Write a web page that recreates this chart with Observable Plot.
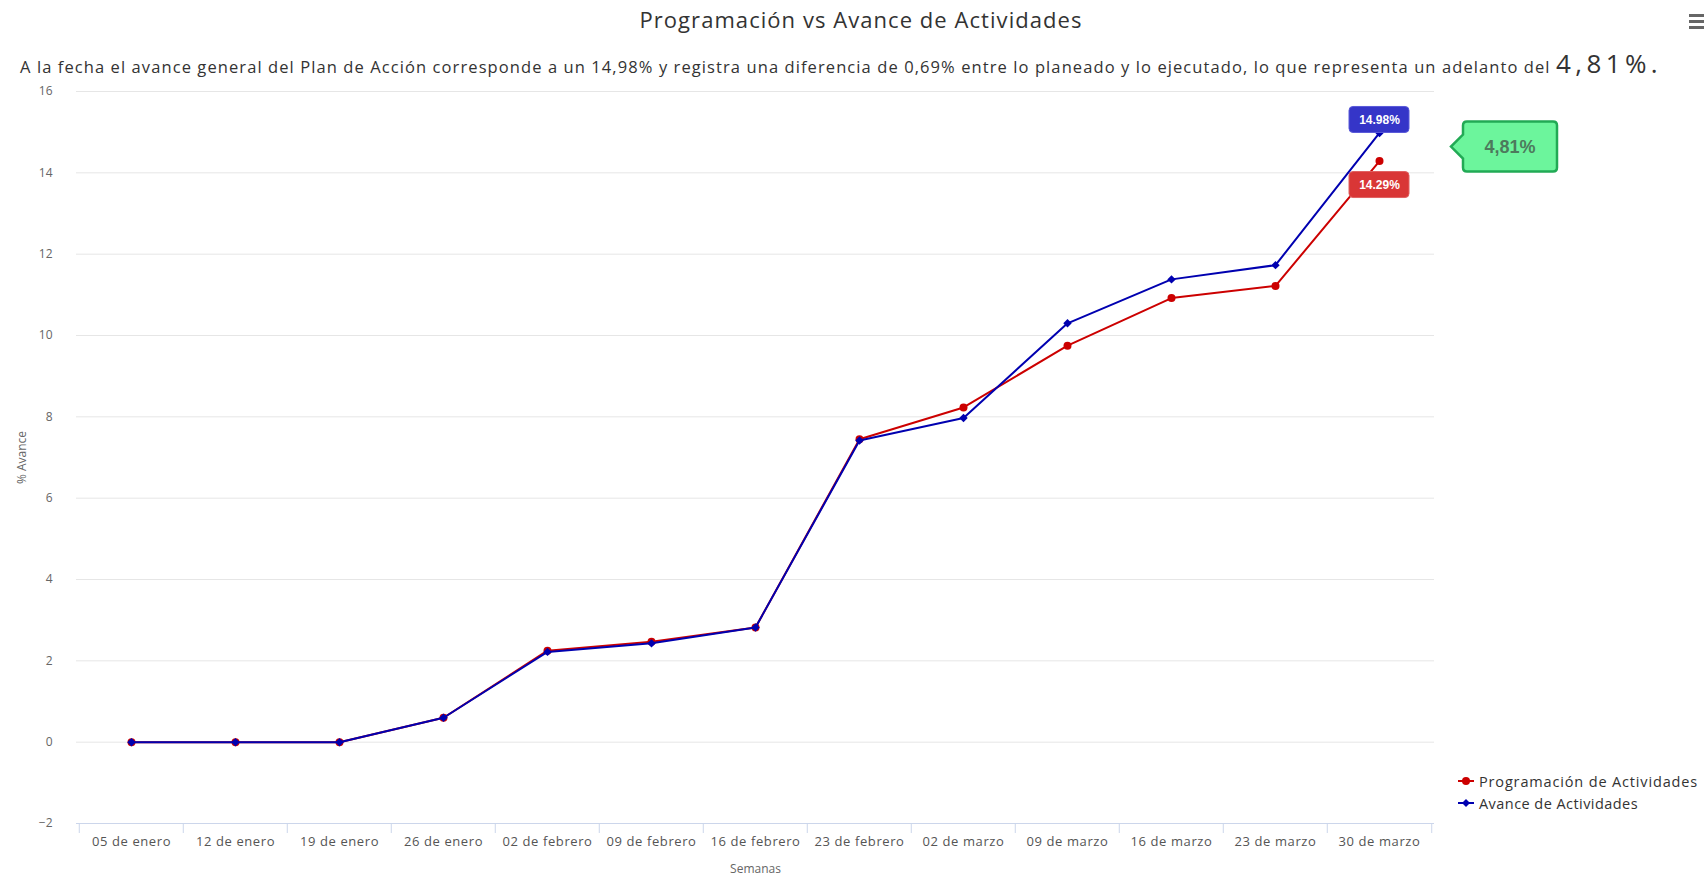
<!DOCTYPE html>
<html>
<head>
<meta charset="utf-8">
<script src="https://cdn.jsdelivr.net/npm/d3@7"></script>
<script src="https://cdn.jsdelivr.net/npm/@observablehq/plot@0.6"></script>
<style>
  body { margin: 0; background: #fff; font-family: "Open Sans", sans-serif; }
  #wrap { position: relative; width: 1704px; height: 877px; overflow: hidden; background: #fff; }
  #title { position: absolute; left: 861px; top: 4px; transform: translateX(-50%); font-size: 22px; color: #333; white-space: nowrap; }
  #subtitle { position: absolute; left: 20px; top: 48px; font-size: 16.5px; color: #333; white-space: nowrap; line-height: 30px; }
  #subtitle .big { font-size: 26px; }
  #chart { position: absolute; left: 0; top: 80px; }
  #chart svg [aria-label="x-axis tick label"] text { letter-spacing: 0.6px; }
  #menu { position: absolute; left: 1689px; top: 14px; width: 15px; }
  #menu div { height: 3px; background: #666; margin-bottom: 3px; }
  #legend { position: absolute; left: 1458px; top: 770px; font-size: 14.5px; color: #333; }
  #legend .item { height: 22px; display: flex; align-items: center; white-space: nowrap; }
  #legend svg { margin-right: 5px; }
  #callout { position: absolute; left: 0; top: 0; pointer-events: none; }
</style>
</head>
<body>
<div id="wrap">
  <div id="title"></div>
  <div id="subtitle"></div>
  <div id="menu"><div></div><div></div><div></div></div>
  <div id="chart"></div>
  <div id="legend"></div>
</div>
<script>
// ---- Data ----
const semanas = ["05 de enero", "12 de enero", "19 de enero", "26 de enero", "02 de febrero", "09 de febrero", "16 de febrero", "23 de febrero", "02 de marzo", "09 de marzo", "16 de marzo", "23 de marzo", "30 de marzo"];
const programacion = [0, 0, 0, 0.6, 2.25, 2.47, 2.82, 7.45, 8.23, 9.75, 10.92, 11.22, 14.29];
const avance = [0, 0, 0, 0.6, 2.22, 2.43, 2.82, 7.42, 7.97, 10.30, 11.38, 11.73, 14.98];
const yTicks = [-2, 0, 2, 4, 6, 8, 10, 12, 14, 16];
const serieProgramacion = "Programación de Actividades";
const serieAvance = "Avance de Actividades";
const titulo = "Programación vs Avance de Actividades";
const subtituloTexto = "A la fecha el avance general del Plan de Acción corresponde a un 14,98% y registra una diferencia de 0,69% entre lo planeado y lo ejecutado, lo que representa un adelanto del ";
const adelanto = "4,81%";
const ejeY = "% Avance";
const ejeX = "Semanas";

const rojo = "#cc0000", azul = "#0000b0";

// stretch a text element's letter spacing to a target width (layout only)
function fitWidth(el, target) {
  const w = el.getBoundingClientRect().width;
  const n = el.textContent.length;
  el.style.letterSpacing = ((target - w) / n) + "px";
}

const titleEl = document.getElementById("title");
titleEl.textContent = titulo;
fitWidth(titleEl, 443);

const sub = document.getElementById("subtitle");
const normal = document.createElement("span"); normal.textContent = subtituloTexto;
const big = document.createElement("span"); big.className = "big"; big.textContent = adelanto + ".";
sub.appendChild(normal); sub.appendChild(big);
fitWidth(normal, 1536);
fitWidth(big, 106);

const prog = semanas.map((s, i) => ({semana: s, valor: programacion[i]}));
const av = semanas.map((s, i) => ({semana: s, valor: avance[i]}));
const lastProg = [prog[prog.length - 1]];
const lastAv = [av[av.length - 1]];
const fmt = d => d3.format(".2f")(d.valor) + "%";

const W = 1704, H = 797, mL = 76, mR = 270, mT = 11, mB = 54;
const step = (W - mL - mR) / semanas.length;
const font = "'Liberation Sans', Arial, sans-serif";

const chart = Plot.plot({
  width: W, height: H,
  marginLeft: mL, marginRight: mR, marginTop: mT, marginBottom: mB,
  style: {fontFamily: "'Open Sans', sans-serif", color: "#666", background: "transparent"},
  x: {type: "band", domain: semanas, padding: 0},
  y: {domain: [-2, 16]},
  marks: [
    Plot.gridY(yTicks.filter(t => t > -2), {stroke: "#e6e6e6", strokeOpacity: 1}),
    Plot.ruleY([-2], {stroke: "#ccd6eb"}),
    Plot.ruleX(semanas, {x: d => d, y1: () => -2, y2: () => -2, dx: -step / 2, insetBottom: -10, stroke: "#ccd6eb"}),
    Plot.ruleX([semanas[semanas.length - 1]], {x: d => d, y1: () => -2, y2: () => -2, dx: step / 2, insetBottom: -10, stroke: "#ccd6eb"}),
    Plot.axisY(yTicks, {tickSize: 0, tickPadding: 24, fontSize: 12, label: null, color: "#666"}),
    Plot.axisX({tickSize: 0, tickPadding: 13, fontSize: 13, label: null, color: "#555"}),
    Plot.text([ejeY], {text: d => d, frameAnchor: "left", dx: -54, rotate: -90, textAnchor: "middle", lineAnchor: "middle", fontSize: 12, fill: "#666"}),
    Plot.text([ejeX], {text: d => d, frameAnchor: "bottom", dy: 46, textAnchor: "middle", lineAnchor: "middle", fontSize: 12, fill: "#666"}),
    Plot.line(prog, {x: "semana", y: "valor", stroke: rojo, strokeWidth: 2}),
    Plot.dot(prog, {x: "semana", y: "valor", r: 4, fill: rojo}),
    Plot.line(av, {x: "semana", y: "valor", stroke: azul, strokeWidth: 2}),
    Plot.dot(av, {x: "semana", y: "valor", r: 3.8, symbol: "diamond2", fill: azul}),
    Plot.barY(lastAv, {x: "semana", y1: "valor", y2: "valor", insetTop: -26, insetBottom: 0, insetLeft: 22, insetRight: 22, fill: "#3535c8", stroke: "#5a5ad8", rx: 4}),
    Plot.barY(lastProg, {x: "semana", y1: "valor", y2: "valor", insetTop: 11, insetBottom: -37, insetLeft: 22, insetRight: 22, fill: "#d93636", stroke: "#e06060", rx: 4}),
    Plot.text(lastAv, {x: "semana", y: "valor", text: fmt, dy: -13, fill: "white", fontWeight: "bold", fontSize: 12, fontFamily: font}),
    Plot.text(lastProg, {x: "semana", y: "valor", text: fmt, dy: 24, fill: "white", fontWeight: "bold", fontSize: 12, fontFamily: font})
  ]
});
document.getElementById("chart").appendChild(chart);

// Callout pointing to the gap between the two final values
const ys = chart.scale("y");
const yMid = 80 + ys.apply((avance[avance.length - 1] + programacion[programacion.length - 1]) / 2);
const x0 = 1463, x1 = 1557, hh = 25, r = 4, tip = 12, nb = 12;
const y0 = yMid - hh, y1 = yMid + hh;
const ns = "http://www.w3.org/2000/svg";
const csvg = document.createElementNS(ns, "svg");
csvg.setAttribute("id", "callout");
csvg.setAttribute("width", W); csvg.setAttribute("height", 877);
const p = document.createElementNS(ns, "path");
p.setAttribute("d", `M${x0 + r},${y0} H${x1 - r} Q${x1},${y0} ${x1},${y0 + r} V${y1 - r} Q${x1},${y1} ${x1 - r},${y1} H${x0 + r} Q${x0},${y1} ${x0},${y1 - r} V${yMid + nb} L${x0 - tip},${yMid} L${x0},${yMid - nb} V${y0 + r} Q${x0},${y0} ${x0 + r},${y0} Z`);
p.setAttribute("fill", "#6cf59c");
p.setAttribute("stroke", "#22aa55");
p.setAttribute("stroke-width", "2.5");
csvg.appendChild(p);
const t = document.createElementNS(ns, "text");
t.setAttribute("x", (x0 + x1) / 2); t.setAttribute("y", yMid);
t.setAttribute("text-anchor", "middle"); t.setAttribute("dominant-baseline", "central");
t.setAttribute("font-family", font); t.setAttribute("font-weight", "bold"); t.setAttribute("font-size", "18");
t.setAttribute("fill", "#4d7a5c");
t.textContent = adelanto;
csvg.appendChild(t);
document.getElementById("wrap").appendChild(csvg);

// Legend
const legend = document.getElementById("legend");
[[serieProgramacion, rojo, "circle"], [serieAvance, azul, "diamond"]].forEach(([name, color, shape]) => {
  const item = document.createElement("div"); item.className = "item";
  const marker = shape === "circle"
    ? `<circle cx="8" cy="6" r="4" fill="${color}"/>`
    : `<path d="M8,2 L12,6 L8,10 L4,6 Z" fill="${color}"/>`;
  item.innerHTML = `<svg width="16" height="12"><line x1="0" x2="16" y1="6" y2="6" stroke="${color}" stroke-width="2"/>${marker}</svg>`;
  const span = document.createElement("span"); span.textContent = name;
  item.appendChild(span);
  legend.appendChild(item);
  fitWidth(span, name === serieProgramacion ? 219 : 159);
});
</script>
</body>
</html>
